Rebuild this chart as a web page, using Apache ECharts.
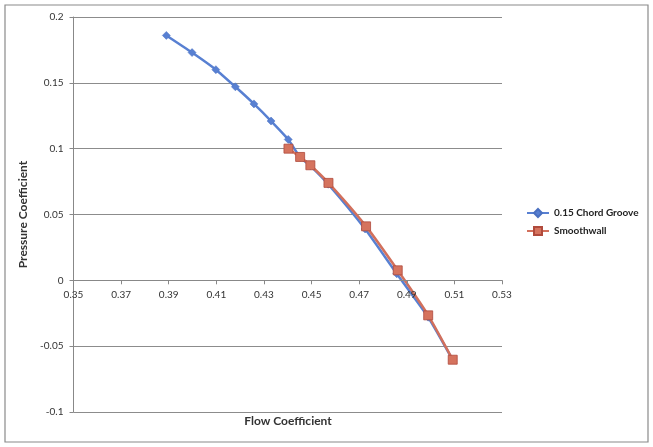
<!DOCTYPE html>
<html>
<head>
<meta charset="utf-8">
<script src="https://cdn.jsdelivr.net/npm/echarts@6/dist/echarts.min.js"></script>
<style>
  html, body { margin: 0; padding: 0; background: #fff; }
  #main { width: 653px; height: 447px; }
</style>
</head>
<body>
<div id="main"></div>
<script>
// 0.15 chord groove
var grooveX = [0.389, 0.3998, 0.4098, 0.418, 0.4258, 0.433, 0.4402, 0.4452, 0.4495, 0.457, 0.4725, 0.4858, 0.499, 0.5093];
var grooveY = [0.186, 0.173, 0.160, 0.147, 0.134, 0.121, 0.107, 0.0935, 0.087, 0.073, 0.039, 0.005, -0.028, -0.0605];
// smoothwall
var smoothX = [0.4403, 0.4452, 0.4495, 0.4571, 0.4729, 0.4862, 0.499, 0.5093];
var smoothY = [0.100, 0.0937, 0.0874, 0.074, 0.041, 0.0076, -0.0266, -0.0603];
// x tick labels
var xTicks = [0.35, 0.37, 0.39, 0.41, 0.43, 0.45, 0.47, 0.49, 0.51, 0.53];

function pairs(xs, ys) {
  var out = [];
  for (var i = 0; i < xs.length; i++) {
    out.push([xs[i], ys[i]]);
  }
  return out;
}

var font = 'Lato, "Open Sans", sans-serif';
var option;
option = {
  animation: false,
  textStyle: { fontFamily: font },
  title: {
    text: 'Flow Coefficient',
    left: 288,
    top: 415,
    padding: 0,
    textAlign: 'center',
    textStyle: { fontFamily: font, fontSize: 12, fontWeight: 'bold', color: '#333' }
  },
  grid: {
    left: 73.5,
    right: 151,
    top: 17,
    bottom: 35
  },
  graphic: [
    {
      type: 'rect',
      shape: { x: 5, y: 5, width: 643, height: 437 },
      style: { fill: 'none', stroke: '#8a8a8a', lineWidth: 1.2 }
    }
  ],
  legend: {
    orient: 'vertical',
    left: 526,
    top: 208,
    padding: 0,
    itemWidth: 22,
    itemHeight: 10,
    itemGap: 8,
    textStyle: { fontFamily: font, fontSize: 10, color: '#222', fontWeight: 'bold' },
    data: ['0.15 Chord Groove', 'Smoothwall']
  },
  xAxis: {
    type: 'value',
    min: 0.35,
    max: 0.53,
    zlevel: 1,
    // axis crosses at y = 0 (one third of the plot height up from the bottom)
    offset: -131.7,
    axisLine: { onZero: false, lineStyle: { color: '#888', width: 1 } },
    axisTick: { show: true, length: 4, customValues: xTicks, lineStyle: { color: '#888' } },
    axisLabel: { customValues: xTicks, margin: 9, fontSize: 10, color: '#333' },
    splitLine: { show: false }
  },
  yAxis: {
    type: 'value',
    min: -0.1,
    max: 0.2,
    interval: 0.05,
    name: 'Pressure Coefficient',
    nameLocation: 'middle',
    nameGap: 39,
    nameTextStyle: { fontFamily: font, fontSize: 12, fontWeight: 'bold', color: '#333' },
    axisLine: { show: true, lineStyle: { color: '#888', width: 1 } },
    axisTick: { show: true, length: 4, lineStyle: { color: '#888' } },
    axisLabel: { margin: 10, fontSize: 10, color: '#333' },
    splitLine: { show: true, lineStyle: { color: '#8c8c8c', width: 1 } }
  },
  series: [
    {
      name: '0.15 Chord Groove',
      type: 'line',
      data: pairs(grooveX, grooveY),
      smooth: 0.2,
      symbol: 'diamond',
      symbolSize: 8,
      lineStyle: { color: '#5880d2', width: 2.5 },
      itemStyle: { color: '#5880d2', borderColor: '#4a70c0', borderWidth: 0.5 }
    },
    {
      name: 'Smoothwall',
      type: 'line',
      data: pairs(smoothX, smoothY),
      smooth: 0.2,
      symbol: 'rect',
      symbolSize: 9,
      lineStyle: { color: '#d2705c', width: 2.5 },
      itemStyle: { color: '#d5735e', borderColor: '#b04a3c', borderWidth: 0.8 }
    }
  ]
};

var myChart = echarts.init(document.getElementById('main'));
window.addEventListener('resize', function () {
  myChart.resize();
});
option && myChart.setOption(option);
</script>
</body>
</html>
